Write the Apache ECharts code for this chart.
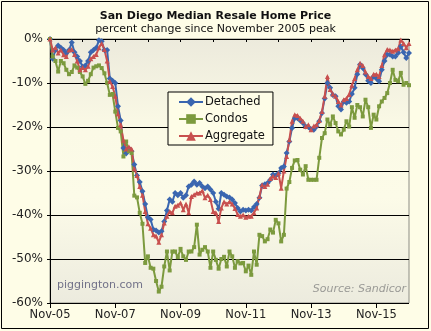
<!DOCTYPE html>
<html>
<head>
<meta charset="utf-8">
<script src="https://cdn.jsdelivr.net/npm/echarts@6/dist/echarts.min.js"></script>
<style>
  html, body { margin: 0; padding: 0; background: #FEFDE7; }
  #chart { width: 431px; height: 331px; }
</style>
</head>
<body>
<div id="chart"></div>
<script>
// Monthly percent change from the November 2005 peak, Nov-05 through Nov-16
const startYear = 2005, startMonth = 10, monthCount = 133;
const monthNames = ['Jan','Feb','Mar','Apr','May','Jun','Jul','Aug','Sep','Oct','Nov','Dec'];
const months = [];
for (let k = 0; k < monthCount; k++) {
  const m = (startMonth + k) % 12;
  const y = startYear + Math.floor((startMonth + k) / 12);
  months.push(monthNames[m] + '-' + String(y % 100).padStart(2, '0'));
}

const detached = [
  0, -4.5, -2.5, -1.5, -2.0, -2.5, -3.2, -2.5, -0.8, -3.0,
  -4.0, -5.0, -6.3, -6.0, -5.0, -3.0, -2.5, -2.0, -0.3, -0.5,
  -2.5, -2.5, -9.0, -9.5, -10.0, -15.3, -18.5, -24.8, -26.0, -25.0,
  -25.5, -28.5, -31.0, -32.5, -34.6, -37.5, -40.5, -41.0, -43.3, -43.5,
  -44.0, -43.7, -41.5, -39.0, -36.5, -37.0, -35.0, -35.5, -35.0, -36.1,
  -35.5, -33.5, -33.1, -32.4, -33.1, -32.7, -33.5, -33.9, -33.5, -34.2,
  -35.0, -37.0, -38.6, -35.0, -35.4, -35.8, -36.0, -36.5, -37.3, -38.4,
  -39.2, -38.8, -39.0, -38.8, -39.0, -38.2, -37.5, -36.1, -33.3, -33.0,
  -32.7, -32.0, -30.8, -31.0, -30.5, -29.3, -29.0, -25.9, -23.3, -20.2,
  -18.0, -18.0, -18.5, -19.1, -19.9, -20.0, -20.5, -20.6, -19.9, -18.7,
  -16.8, -13.5, -10.0, -11.1, -12.7, -13.0, -15.3, -16.0, -14.2, -14.5,
  -14.2, -12.5, -11.1, -8.0, -5.8, -6.6, -8.0, -9.5, -10.0, -8.5,
  -9.0, -9.6, -7.0, -5.0, -3.6, -3.5, -4.0, -4.0, -3.2, -1.7,
  -3.0, -4.3, -3.2
];

const condos = [
  0, -4.0, -5.0, -7.4, -5.0, -5.5, -7.0, -8.0, -7.5, -6.0,
  -6.5, -7.5, -8.5, -10.2, -9.5, -8.0, -6.5, -6.2, -6.0, -6.6,
  -7.8, -10.0, -12.7, -12.5, -16.5, -20.2, -21.0, -26.7, -23.3, -25.5,
  -25.9, -35.6, -36.0, -39.5, -42.0, -50.9, -49.4, -52.0, -52.2, -55.0,
  -57.4, -56.3, -51.7, -48.3, -52.6, -48.3, -48.3, -49.6, -47.7, -49.4,
  -50.2, -48.3, -48.3, -47.3, -42.2, -49.0, -47.9, -47.3, -48.3, -52.0,
  -48.3, -50.2, -52.2, -50.0, -49.5, -51.7, -48.3, -49.4, -52.0, -50.5,
  -51.0, -50.9, -52.8, -51.5, -53.6, -48.3, -51.3, -44.5, -44.8, -46.0,
  -45.5, -43.3, -44.0, -41.1, -41.9, -46.0, -44.5, -34.0, -32.5, -29.3,
  -27.6, -27.5, -29.7, -30.8, -28.9, -32.0, -32.0, -32.0, -32.0, -27.0,
  -22.5, -21.4, -18.3, -19.5, -17.6, -19.1, -21.0, -21.7, -20.6, -18.7,
  -19.9, -15.5, -17.9, -15.0, -15.5, -17.6, -13.8, -15.5, -20.2, -17.2,
  -18.3, -15.3, -14.2, -13.4, -12.3, -10.0, -7.0, -9.3, -9.6, -7.7,
  -10.4, -10.0, -10.5
];

const aggregate = [
  0, -2.5, -2.0, -3.2, -2.5, -3.6, -4.0, -2.5, -2.4, -3.5,
  -5.0, -7.0, -6.5, -7.0, -6.2, -4.5, -4.0, -3.5, -2.0, -1.0,
  -2.4, -5.0, -9.6, -10.8, -13.0, -17.0, -19.5, -23.0, -25.0, -24.5,
  -25.0, -29.5, -31.0, -33.5, -35.5, -39.2, -42.0, -43.0, -44.5, -44.8,
  -46.2, -44.5, -41.8, -40.3, -39.2, -39.5, -38.0, -37.8, -37.3, -38.8,
  -37.5, -39.5, -35.8, -35.4, -35.0, -35.0, -34.5, -36.1, -35.5, -36.5,
  -39.2, -39.5, -41.5, -38.4, -37.0, -37.5, -37.0, -37.5, -38.5, -39.9,
  -40.3, -40.0, -40.5, -40.3, -40.3, -39.5, -38.4, -35.8, -33.1, -33.5,
  -33.0, -31.7, -31.2, -31.5, -30.5, -33.9, -30.0, -26.7, -22.9, -18.7,
  -17.2, -17.4, -18.0, -18.7, -19.9, -19.5, -20.6, -19.8, -19.5, -18.5,
  -16.5, -13.0, -8.5, -11.5, -12.5, -13.0, -14.2, -15.0, -13.8, -13.5,
  -12.6, -10.5, -9.0, -7.0, -5.5, -6.0, -7.5, -8.5, -9.0, -8.0,
  -8.0, -8.5, -6.0, -3.6, -2.4, -2.5, -2.8, -2.5, -2.2, -0.2,
  -1.0, -2.0, -1.0
];

const yTicks = [-60, -50, -40, -30, -20, -10, 0];

const FONT = 'DejaVu Sans';
const chart = echarts.init(document.getElementById('chart'), null, { renderer: 'canvas' });

const catAxisBase = {
  type: 'category',
  data: months,
  boundaryGap: false,
  position: 'bottom'
};

chart.setOption({
  animation: false,
  backgroundColor: '#FEFDE7',
  textStyle: { fontFamily: FONT },
  title: {
    text: 'San Diego Median Resale Home Price',
    subtext: 'percent change since November 2005 peak',
    left: 'center',
    top: 6,
    itemGap: 2,
    textStyle: { fontFamily: FONT, fontSize: 11, fontWeight: 'bold', color: '#111' },
    subtextStyle: { fontFamily: FONT, fontSize: 11, color: '#111' }
  },
  grid: {
    left: 50, right: 22, top: 39, bottom: 28,
    show: true,
    borderColor: '#8C8C84',
    borderWidth: 1,
    backgroundColor: {
      type: 'linear', x: 0, y: 0, x2: 0, y2: 1,
      colorStops: [
        { offset: 0, color: '#ECEADC' },
        { offset: 0.35, color: '#FBFAE6' },
        { offset: 0.6, color: '#FCFBE8' },
        { offset: 1, color: '#ECEBDE' }
      ]
    }
  },
  legend: {
    orient: 'vertical',
    left: 168, top: 92,
    backgroundColor: '#FEFDE7',
    borderColor: '#000',
    borderWidth: 1,
    borderRadius: 0,
    padding: [4, 8, 3, 10],
    itemWidth: 24, itemHeight: 12, itemGap: 5,
    textStyle: { fontFamily: FONT, fontSize: 11.5, color: '#111', padding: [0, 0, 0, -3] },
    data: ['Detached', 'Condos', 'Aggregate']
  },
  xAxis: [
    Object.assign({}, catAxisBase, {
      axisLine: { show: true, lineStyle: { color: '#000', width: 1 } },
      axisTick: { show: true, interval: 11, length: 3, lineStyle: { color: '#000' } },
      axisLabel: {
        interval: 23, margin: 6,
        fontFamily: FONT, fontSize: 11.5, color: '#222'
      },
      splitLine: { show: false }
    }),
    Object.assign({}, catAxisBase, {
      axisLine: { show: false },
      axisTick: { show: true, interval: 23, length: 5, lineStyle: { color: '#000' } },
      axisLabel: { show: false },
      splitLine: { show: false }
    })
  ],
  yAxis: {
    type: 'value',
    min: yTicks[0], max: yTicks[yTicks.length - 1], interval: 10,
    axisLine: { show: true, lineStyle: { color: '#000', width: 1 } },
    axisTick: { show: true, length: 3, lineStyle: { color: '#000' } },
    axisLabel: {
      formatter: v => v + '%',
      margin: 7,
      fontFamily: FONT, fontSize: 12, color: '#222'
    },
    splitLine: {
      show: true,
      lineStyle: { color: ['#000', '#000', '#000', '#000', '#000', '#000', '#8C8C84'], width: 1 }
    }
  },
  graphic: [
    {
      type: 'rect', silent: true, z: 100,
      shape: { x: 1.5, y: 1.5, width: 427, height: 327 },
      style: { fill: 'none', stroke: '#000', lineWidth: 1 }
    },
    {
      type: 'text', left: 57, top: 280, silent: true,
      style: { text: 'piggington.com', fill: '#727289', font: '11px "DejaVu Sans"' }
    },
    {
      type: 'text', right: 25, top: 284, silent: true,
      style: { text: 'Source: Sandicor', fill: '#9A9A96', font: 'italic 11px "DejaVu Sans"' }
    }
  ],
  series: [
    {
      name: 'Detached', type: 'line', data: detached,
      color: '#3A66B0',
      lineStyle: { width: 2, color: '#3A66B0' },
      symbol: 'diamond', symbolSize: 6, showAllSymbol: true,
      itemStyle: { color: '#3A66B0' }
    },
    {
      name: 'Condos', type: 'line', data: condos,
      color: '#7C9A3E',
      lineStyle: { width: 2, color: '#7C9A3E' },
      symbol: 'rect', symbolSize: 4, showAllSymbol: true,
      itemStyle: { color: '#7C9A3E' }
    },
    {
      name: 'Aggregate', type: 'line', data: aggregate,
      color: '#C8504F',
      lineStyle: { width: 2, color: '#C8504F' },
      symbol: 'triangle', symbolSize: 5, showAllSymbol: true,
      itemStyle: { color: '#C8504F' }
    }
  ]
});
</script>
</body>
</html>
